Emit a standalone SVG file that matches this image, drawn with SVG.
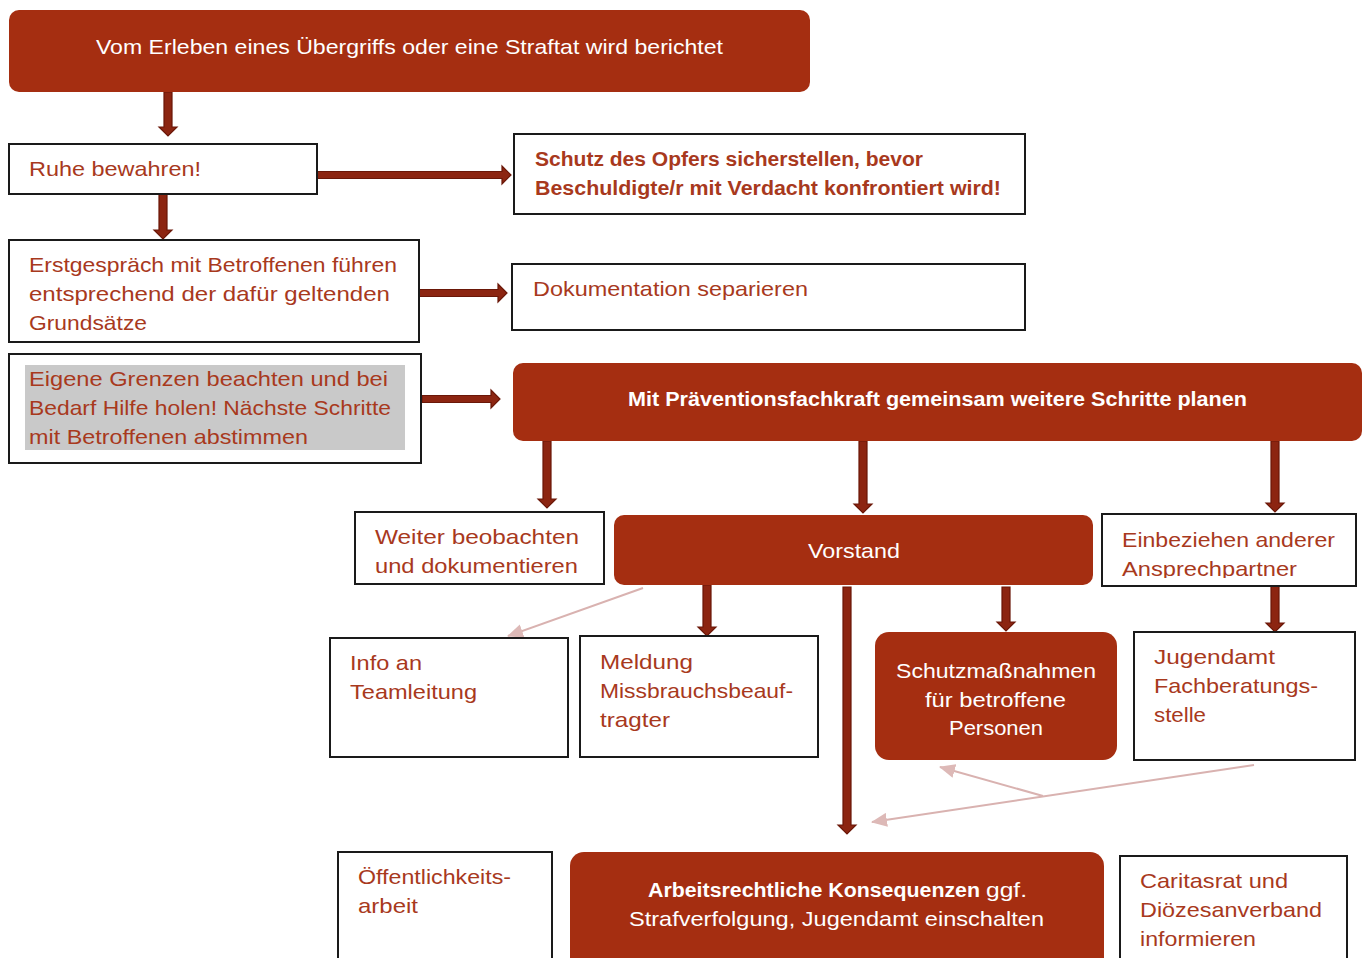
<svg xmlns="http://www.w3.org/2000/svg" width="1365" height="958" viewBox="0 0 1365 958">
<style>
  .red{fill:#A52E11;}
  .box{fill:#FFFFFF;stroke:#1A1A1A;stroke-width:2;}
  .t{font-family:"Liberation Sans",Arial,sans-serif;font-size:21px;fill:#A8391D;}
  .tb{font-family:"Liberation Sans",Arial,sans-serif;font-size:20px;font-weight:bold;fill:#A8391D;}
  .w{font-family:"Liberation Sans",Arial,sans-serif;font-size:21px;fill:#FFFFFF;}
  .wb{font-family:"Liberation Sans",Arial,sans-serif;font-size:20px;font-weight:bold;fill:#FFFFFF;}
  .arr{fill:#8C2511;stroke:#6A1708;stroke-width:1.2;}
  .pink{stroke:#D9B2B0;stroke-width:2;fill:none;}
</style>
<defs>
  <marker id="ph" markerUnits="userSpaceOnUse" markerWidth="16" markerHeight="14" refX="15" refY="7" orient="auto" viewBox="0 0 16 14">
    <path d="M0,0 L16,7 L0,14 Z" fill="#DDB9B7"/>
  </marker>
  <clipPath id="clipEin"><rect x="1102" y="514" width="254" height="64"/></clipPath>
</defs>
<rect width="1365" height="958" fill="#FFFFFF"/>

<g id="connectors">
  <path class="arr" d="M164,92 H172 V127 H177 L168,136 L159,127 H164 Z"/>
  <path class="arr" d="M317,171.5 H502 V166 L511,175 L502,184 V178.5 H317 Z"/>
  <path class="arr" d="M159,194 H167 V230 H172 L163,239 L154,230 H159 Z"/>
  <path class="arr" d="M419,289.5 H498 V284 L507,293 L498,302 V296.5 H419 Z"/>
  <path class="arr" d="M422,395.5 H491 V390 L500,399 L491,408 V402.5 H422 Z"/>
  <path class="arr" d="M543,441 H551 V499 H556 L547,508 L538,499 H543 Z"/>
  <path class="arr" d="M859,441 H867 V504 H872 L863,513 L854,504 H859 Z"/>
  <path class="arr" d="M1271,441 H1279 V503 H1284 L1275,512 L1266,503 H1271 Z"/>
  <path class="arr" d="M703,585 H711 V627 H716 L707,636 L698,627 H703 Z"/>
  <path class="arr" d="M843,587 H851 V825 H856 L847,834 L838,825 H843 Z"/>
  <path class="arr" d="M1002,587 H1010 V622 H1015 L1006,631 L997,622 H1002 Z"/>
  <path class="arr" d="M1271,586 H1279 V623 H1284 L1275,632 L1266,623 H1271 Z"/>
  <line class="pink" x1="643" y1="588" x2="508" y2="636" marker-end="url(#ph)"/>
  <line class="pink" x1="1254" y1="765" x2="872" y2="822" marker-end="url(#ph)"/>
  <line class="pink" x1="1043" y1="796" x2="940" y2="767" marker-end="url(#ph)"/>
</g>

<g id="n-start">
  <rect class="red" x="9" y="10" width="801" height="82" rx="10"/>
  <text class="w" x="96" y="54" textLength="627" lengthAdjust="spacingAndGlyphs">Vom Erleben eines Übergriffs oder eine Straftat wird berichtet</text>
</g>

<g id="n-ruhe">
  <rect class="box" x="9" y="144" width="308" height="50"/>
  <text class="t" x="29" y="176" textLength="172" lengthAdjust="spacingAndGlyphs">Ruhe bewahren!</text>
</g>

<g id="n-schutz">
  <rect class="box" x="514" y="134" width="511" height="80"/>
  <text class="tb" x="535" y="166" textLength="388" lengthAdjust="spacingAndGlyphs">Schutz des Opfers sicherstellen, bevor</text>
  <text class="tb" x="535" y="195" textLength="466" lengthAdjust="spacingAndGlyphs">Beschuldigte/r mit Verdacht konfrontiert wird!</text>
</g>

<g id="n-erst">
  <rect class="box" x="9" y="240" width="410" height="102"/>
  <text class="t" x="29" y="272" textLength="368" lengthAdjust="spacingAndGlyphs">Erstgespräch mit Betroffenen führen</text>
  <text class="t" x="29" y="301" textLength="361" lengthAdjust="spacingAndGlyphs">entsprechend der dafür geltenden</text>
  <text class="t" x="29" y="330" textLength="118" lengthAdjust="spacingAndGlyphs">Grundsätze</text>
</g>

<g id="n-doku">
  <rect class="box" x="512" y="264" width="513" height="66"/>
  <text class="t" x="533" y="296" textLength="275" lengthAdjust="spacingAndGlyphs">Dokumentation separieren</text>
</g>

<g id="n-grenzen">
  <rect class="box" x="9" y="354" width="412" height="109"/>
  <rect x="25" y="365" width="380" height="85" fill="#C9C9C9"/>
  <text class="t" x="29" y="386" textLength="359" lengthAdjust="spacingAndGlyphs">Eigene Grenzen beachten und bei</text>
  <text class="t" x="29" y="415" textLength="362" lengthAdjust="spacingAndGlyphs">Bedarf Hilfe holen! Nächste Schritte</text>
  <text class="t" x="29" y="444" textLength="279" lengthAdjust="spacingAndGlyphs">mit Betroffenen abstimmen</text>
</g>

<g id="n-praevention">
  <rect class="red" x="513" y="363" width="849" height="78" rx="10"/>
  <text class="wb" x="628" y="406" textLength="619" lengthAdjust="spacingAndGlyphs">Mit Präventionsfachkraft gemeinsam weitere Schritte planen</text>
</g>

<g id="n-weiter">
  <rect class="box" x="355" y="512" width="249" height="72"/>
  <text class="t" x="375" y="544" textLength="204" lengthAdjust="spacingAndGlyphs">Weiter beobachten</text>
  <text class="t" x="375" y="573" textLength="203" lengthAdjust="spacingAndGlyphs">und dokumentieren</text>
</g>

<g id="n-vorstand">
  <rect class="red" x="614" y="515" width="479" height="70" rx="10"/>
  <text class="w" x="808" y="558" textLength="92" lengthAdjust="spacingAndGlyphs">Vorstand</text>
</g>

<g id="n-einbeziehen">
  <rect class="box" x="1102" y="514" width="254" height="72"/>
  <g clip-path="url(#clipEin)">
    <text class="t" x="1122" y="547" textLength="213" lengthAdjust="spacingAndGlyphs">Einbeziehen anderer</text>
    <text class="t" x="1122" y="576" textLength="175" lengthAdjust="spacingAndGlyphs">Ansprechpartner</text>
  </g>
</g>

<g id="n-info">
  <rect class="box" x="330" y="638" width="238" height="119"/>
  <text class="t" x="350" y="670" textLength="72" lengthAdjust="spacingAndGlyphs">Info an</text>
  <text class="t" x="350" y="699" textLength="127" lengthAdjust="spacingAndGlyphs">Teamleitung</text>
</g>

<g id="n-meldung">
  <rect class="box" x="580" y="636" width="238" height="121"/>
  <text class="t" x="600" y="669" textLength="93" lengthAdjust="spacingAndGlyphs">Meldung</text>
  <text class="t" x="600" y="698" textLength="193" lengthAdjust="spacingAndGlyphs">Missbrauchsbeauf-</text>
  <text class="t" x="600" y="727" textLength="70" lengthAdjust="spacingAndGlyphs">tragter</text>
</g>

<g id="n-schutzmassnahmen">
  <rect class="red" x="875" y="632" width="242" height="128" rx="14"/>
  <text class="w" x="896" y="678" textLength="200" lengthAdjust="spacingAndGlyphs">Schutzmaßnahmen</text>
  <text class="w" x="925" y="707" textLength="141" lengthAdjust="spacingAndGlyphs">für betroffene</text>
  <text class="w" x="949" y="735" textLength="94" lengthAdjust="spacingAndGlyphs">Personen</text>
</g>

<g id="n-jugendamt">
  <rect class="box" x="1134" y="632" width="221" height="128"/>
  <text class="t" x="1154" y="664" textLength="121" lengthAdjust="spacingAndGlyphs">Jugendamt</text>
  <text class="t" x="1154" y="693" textLength="164" lengthAdjust="spacingAndGlyphs">Fachberatungs-</text>
  <text class="t" x="1154" y="722" textLength="52" lengthAdjust="spacingAndGlyphs">stelle</text>
</g>

<g id="n-oeffentlichkeit">
  <rect class="box" x="338" y="852" width="214" height="120"/>
  <text class="t" x="358" y="884" textLength="153" lengthAdjust="spacingAndGlyphs">Öffentlichkeits-</text>
  <text class="t" x="358" y="913" textLength="60" lengthAdjust="spacingAndGlyphs">arbeit</text>
</g>

<g id="n-arbeitsrecht">
  <rect class="red" x="570" y="852" width="534" height="120" rx="14"/>
  <text class="wb" x="648" y="897" textLength="332" lengthAdjust="spacingAndGlyphs">Arbeitsrechtliche Konsequenzen</text>
  <text class="w" x="986" y="897" textLength="41" lengthAdjust="spacingAndGlyphs">ggf.</text>
  <text class="w" x="629" y="926" textLength="415" lengthAdjust="spacingAndGlyphs">Strafverfolgung, Jugendamt einschalten</text>
</g>

<g id="n-caritas">
  <rect class="box" x="1120" y="856" width="227" height="120"/>
  <text class="t" x="1140" y="888" textLength="148" lengthAdjust="spacingAndGlyphs">Caritasrat und</text>
  <text class="t" x="1140" y="917" textLength="182" lengthAdjust="spacingAndGlyphs">Diözesanverband</text>
  <text class="t" x="1140" y="946" textLength="116" lengthAdjust="spacingAndGlyphs">informieren</text>
</g>
</svg>
